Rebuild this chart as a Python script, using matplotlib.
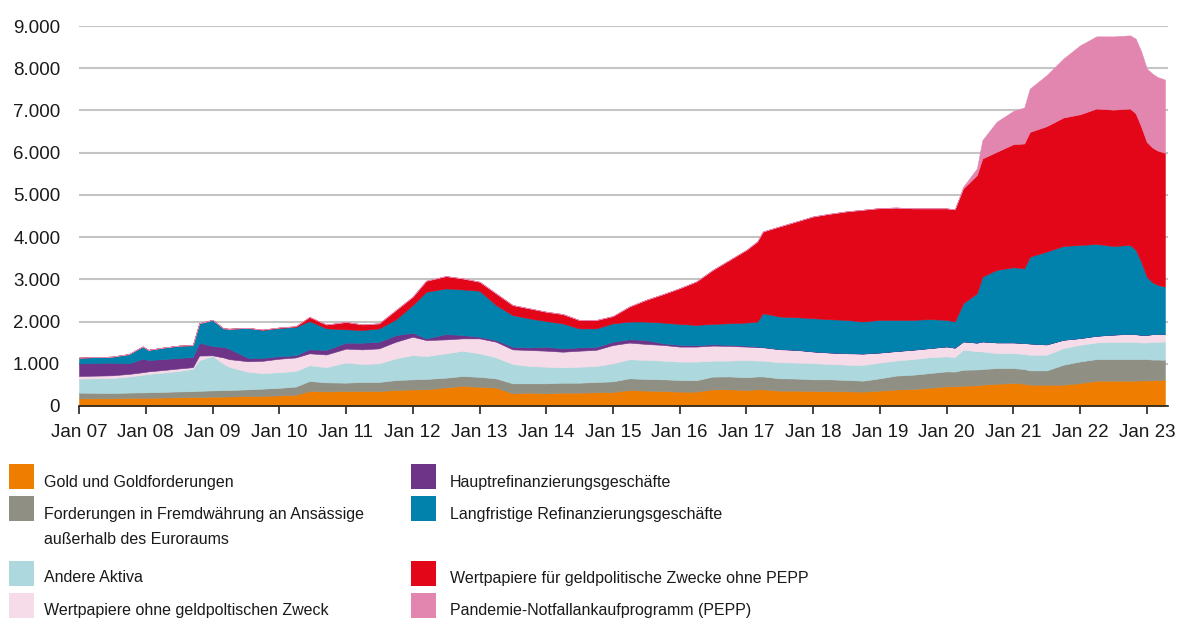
import matplotlib
matplotlib.use("Agg")
import matplotlib.pyplot as plt
import matplotlib.dates as mdates
from matplotlib.ticker import FuncFormatter, MultipleLocator
from matplotlib.patches import Rectangle
import pandas as pd

plt.rcParams["font.family"] = ["Liberation Sans", "DejaVu Sans"]
TXT = "#1a1a1a"

# Zeitpunkte (Stützstellen) und Bilanzposten in Mrd EUR
dates = ["2007-01-01", "2007-07-01", "2007-10-01", "2007-12-15", "2008-01-15",
         "2008-04-01", "2008-07-01", "2008-09-15", "2008-10-20", "2009-01-01",
         "2009-03-01", "2009-04-01", "2009-07-15", "2009-10-01", "2010-01-01",
         "2010-04-01", "2010-06-15", "2010-09-15", "2011-01-01", "2011-04-01",
         "2011-07-01", "2011-10-01", "2012-01-01", "2012-03-15", "2012-07-01",
         "2012-10-01", "2013-01-01", "2013-04-01", "2013-07-01", "2013-10-01",
         "2014-01-01", "2014-04-01", "2014-07-01", "2014-10-01", "2015-01-01",
         "2015-04-01", "2015-07-01", "2015-10-01", "2016-01-01", "2016-04-01",
         "2016-07-01", "2016-10-01", "2017-01-01", "2017-03-01", "2017-04-01",
         "2017-07-01", "2017-10-01", "2018-01-01", "2018-04-01", "2018-07-01",
         "2018-10-01", "2019-01-01", "2019-04-01", "2019-07-01", "2019-10-01",
         "2020-01-01", "2020-02-15", "2020-04-01", "2020-06-15", "2020-07-15",
         "2020-10-01", "2021-01-01", "2021-03-01", "2021-04-01", "2021-07-01",
         "2021-10-01", "2022-01-01", "2022-04-01", "2022-07-01", "2022-10-01",
         "2022-11-01", "2022-12-01", "2023-01-01", "2023-02-01", "2023-03-01",
         "2023-04-10"]

gold = [180, 182, 190, 195, 195, 200, 205, 210, 215, 220, 222, 225, 235, 240, 250,
        265, 355, 345, 355, 355, 355, 379, 394, 394, 442, 473, 455, 434, 300, 316,
        300, 316, 316, 325, 331, 379, 364, 356, 340, 340, 395, 395, 379, 395, 395,
        364, 364, 356, 348, 348, 340, 364, 390, 402, 433, 465, 465, 481, 490, 504,
        528, 544, 528, 504, 504, 504, 544, 599, 599, 599, 599, 607, 607, 607, 615,
        623]
fremdw = [136, 126, 128, 127, 130, 135, 140, 140, 145, 150, 153, 155, 160, 170, 180,
          195, 237, 215, 198, 213, 213, 236, 237, 246, 229, 237, 235, 221, 237, 221,
          237, 236, 236, 243, 253, 277, 276, 276, 277, 270, 301, 305, 301, 305, 305,
          292, 286, 276, 284, 269, 260, 292, 330, 339, 347, 355, 350, 378, 375, 371,
          370, 354, 347, 339, 339, 473, 512, 512, 512, 512, 512, 504, 504, 493, 485,
          472]
andere = [332, 356, 382, 418, 435, 455, 485, 530, 725, 815, 625, 550, 415, 370, 370,
          370, 372, 360, 474, 426, 442, 513, 576, 543, 576, 600, 557, 497, 457, 410,
          394, 363, 379, 377, 426, 451, 451, 443, 434, 441, 379, 375, 411, 375, 375,
          380, 378, 380, 364, 363, 372, 372, 360, 370, 378, 354, 345, 473, 435, 417,
          355, 355, 355, 371, 371, 394, 394, 394, 409, 409, 409, 394, 394, 415, 420,
          434]
ohne_zweck = [63, 63, 60, 60, 60, 60, 60, 40, 110, 15, 150, 180, 250, 290, 320,
              320, 284, 300, 332, 347, 355, 395, 434, 379, 331, 292, 355, 371, 347, 379,
              379, 371, 379, 385, 434, 395, 379, 372, 356, 356, 356, 348, 316, 320, 315,
              308, 300, 277, 269, 269, 268, 237, 220, 221, 213, 236, 220, 197, 200, 237,
              252, 252, 260, 266, 244, 197, 158, 158, 170, 190, 180, 181, 181, 185, 185,
              181]
hrg = [300, 300, 250, 320, 270, 260, 250, 240, 305, 220, 250, 250, 80, 70, 60,
       50, 95, 110, 142, 158, 158, 157, 95, 40, 126, 79, 39, 39, 63, 63,
       94, 79, 79, 70, 79, 79, 95, 39, 40, 33, 31, 24, 24, 15, 10,
       6, 6, 6, 5, 6, 5, 5, 5, 4, 3, 3, 3, 2, 2, 2,
       2, 2, 2, 2, 2, 2, 2, 2, 2, 2, 2, 2, 2, 2, 2,
       2]
lrg = [135, 142, 220, 290, 240, 270, 290, 280, 460, 620, 440, 470, 710, 660, 670,
       670, 672, 510, 316, 300, 315, 371, 655, 1104, 1081, 1080, 1089, 829, 750, 686,
       608, 592, 449, 438, 434, 419, 435, 490, 498, 481, 483, 513, 545, 590, 798,
       769, 769, 784, 785, 785, 755, 770, 735, 705, 683, 628, 619, 904, 1169, 1534,
       1716, 1779, 1770, 2056, 2196, 2220, 2204, 2173, 2098, 2102, 1998, 1732, 1372, 1228, 1163,
       1117]
wp_geldpol = [0, 0, 0, 0, 0, 0, 0, 0, 0, 0, 0, 0, 0, 10, 10,
              20, 95, 90, 173, 134, 119, 221, 197, 261, 292, 261, 213, 276, 237, 237,
              221, 221, 198, 198, 173, 356, 514, 672, 845, 1028, 1280, 1502, 1724, 1897, 1936,
              2134, 2268, 2411, 2498, 2569, 2648, 2648, 2660, 2640, 2624, 2640, 2655, 2719, 2798, 2798,
              2797, 2916, 2955, 2955, 2971, 3042, 3097, 3207, 3229, 3231, 3230, 3200, 3190, 3190, 3180,
              3168]
pepp = [0, 0, 0, 0, 0, 0, 0, 0, 0, 0, 0, 0, 0, 0, 0,
        0, 0, 0, 0, 0, 0, 0, 0, 0, 0, 0, 0, 0, 0, 0,
        0, 0, 0, 0, 0, 0, 0, 0, 0, 0, 0, 0, 0, 0, 0,
        0, 0, 0, 0, 0, 0, 0, 0, 0, 0, 0, 0, 39, 157, 433,
        710, 788, 851, 1025, 1206, 1395, 1631, 1710, 1734, 1733, 1770, 1780, 1740, 1750, 1740,
        1733]

labels = ["Gold und Goldforderungen",
          "Forderungen in Fremdwährung an Ansässige\naußerhalb des Euroraums",
          "Andere Aktiva",
          "Wertpapiere ohne geldpoltischen Zweck",
          "Hauptrefinanzierungsgeschäfte",
          "Langfristige Refinanzierungsgeschäfte",
          "Wertpapiere für geldpolitische Zwecke ohne PEPP",
          "Pandemie-Notfallankaufprogramm (PEPP)"]
colors = ["#EF7D00", "#908F83", "#ADD8DE", "#F5DCE8",
          "#6E3488", "#0082AD", "#E30618", "#E286B0"]

W, H = 1177, 619
fig = plt.figure(figsize=(W / 100, H / 100), dpi=100)
ax = fig.add_axes([79 / W, 1 - 406 / H, (1168 - 79) / W, (406 - 26) / H])

x = pd.to_datetime(dates)
polys = ax.stackplot(x, gold, fremdw, andere, ohne_zweck, hrg, lrg, wp_geldpol, pepp,
                     colors=colors, lw=0)
for p, c in zip(polys, colors):
    p.set_edgecolor(c)
    p.set_linewidth(0.4)

ax.set_xlim(pd.Timestamp("2007-01-01"), pd.Timestamp("2023-04-27"))
ax.set_ylim(0, 9000)
ax.yaxis.set_major_locator(MultipleLocator(1000))
ax.yaxis.set_major_formatter(FuncFormatter(lambda v, _: f"{v:,.0f}".replace(",", ".")))
ax.xaxis.set_major_locator(mdates.YearLocator())
ax.xaxis.set_major_formatter(mdates.DateFormatter("Jan %y"))

ax.grid(axis="y", color="#c4c4c4", lw=1.5)
ax.set_axisbelow(True)
for s in ["top", "right", "left"]:
    ax.spines[s].set_visible(False)
ax.spines["bottom"].set_color("#222222")
ax.spines["bottom"].set_linewidth(1.2)
ax.tick_params(axis="y", length=0, pad=13.5, labelsize=13.5, labelcolor=TXT)
ax.tick_params(axis="x", length=6, width=1.2, color="#222222", pad=7,
               labelsize=13.5, labelcolor=TXT)

# Legende in zwei Spalten
rows_top = [464, 496, 561, 593]
text_y = [482, 514, 578, 610]
cols = [(9, 44), (411, 450)]
for i, (lab, col) in enumerate(zip(labels, colors)):
    c, r = divmod(i, 4)
    sx, tx = cols[c]
    top = rows_top[r]
    fig.add_artist(Rectangle((sx / W, 1 - (top + 25) / H), 25 / W, 25 / H,
                             transform=fig.transFigure, color=col, lw=0))
    ty = text_y[r]
    va = "center"
    if "\n" in lab:
        ty = text_y[r] - 7
        va = "top"
    fig.text(tx / W, 1 - ty / H, lab, ha="left", va=va, fontsize=11.5,
             color=TXT, linespacing=1.85)

fig.savefig("out.png", dpi=100)
